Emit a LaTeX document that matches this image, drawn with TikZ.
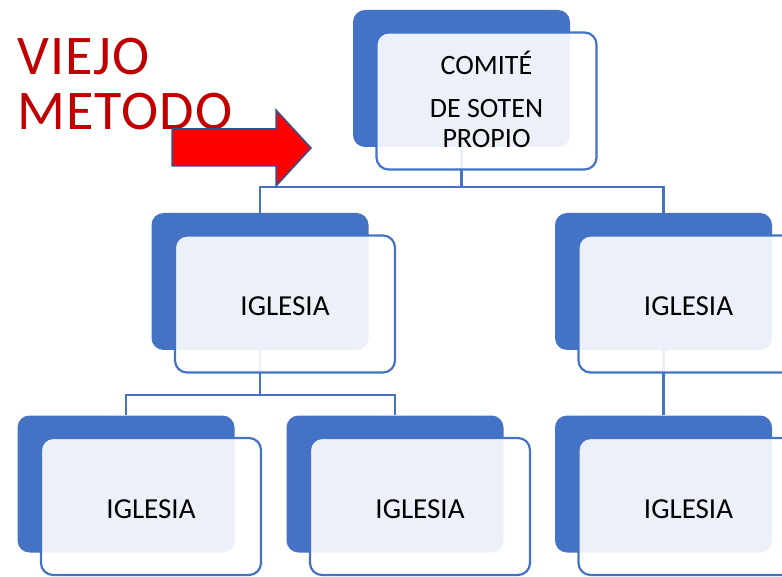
\documentclass[tikz,border=0pt]{standalone}
\usepackage{fontspec}
\setmainfont{Carlito}
\usepackage{tikz}

\definecolor{orgblue}{HTML}{4472C4}
\definecolor{titlered}{HTML}{C00000}
\definecolor{arrowline}{HTML}{2F528F}

\tikzset{
  backbox/.style={fill=orgblue, rounded corners=12pt, minimum width=217pt, minimum height=137pt, inner sep=0pt},
  frontbox/.style={draw=orgblue, line width=2.2pt, fill=white, fill opacity=0.9, text opacity=1,
    rounded corners=12pt, minimum width=220pt, minimum height=137pt, inner sep=0pt,
    align=center, font=\fontsize{29}{31}\selectfont},
  conn/.style={draw=orgblue, line width=2.2pt},
  title/.style={text=titlered, font=\fontsize{56}{60}\selectfont\addfontfeature{LetterSpace=2}, anchor=base west, inner sep=0pt}
}

\begin{document}
\begin{tikzpicture}[x=1pt,y=-1pt]
        \useasboundingbox (0,0) rectangle (782,577);
        \def \dx {25}
        \def \dy {22.5}

        % back boxes
        \node[backbox] at (461.5,78.5) (top) {};
        \foreach \x/\y/\name in {260/281.5/ia, 663.5/281.5/ib, 126/484/iaa, 395/484/iab, 663.5/484/iba}{
          \node[backbox] at (\x,\y) (\name) {};
        }

        % connectors
        \draw[conn] (top.south) -- ++(0,40) -| (ia.north);
        \draw[conn] (top.south) -- ++(0,40) -| (ib.north);
        \draw[conn] (ia.south) -- ++(0,45) -| (iaa.north);
        \draw[conn] (ia.south) -- ++(0,45) -| (iab.north);
        \draw[conn] (ib.south) -- (iba.north);

        % front boxes
        \node[frontbox] at ([shift={(\dx,\dy)}]top.center) (topf) {};
        \node[align=center, font=\fontsize{28}{30}\selectfont] at ([yshift=2]topf.center) (toptext) {COMIT\'E\\[13pt] DE SOTEN\\ PROPIO};
        \foreach \name in {ia, ib, iaa, iab, iba}{
          \node[frontbox, text height=24pt] at ([shift={(\dx,\dy)}]\name.center) (\name f) {IGLESIA};
        }

        % title and arrow
        \node[title] at (17,75) (viejo) {VIEJO};
        \node[title] at (17,130) (metodo) {METODO};
        \draw[arrowline, line width=1.5pt, fill=red, line join=miter]
          (172,129) -- (276,129) -- (276,110) -- (311,148) -- (276,186) -- (276,166) -- (172,166) -- cycle;
\end{tikzpicture}
\end{document}
